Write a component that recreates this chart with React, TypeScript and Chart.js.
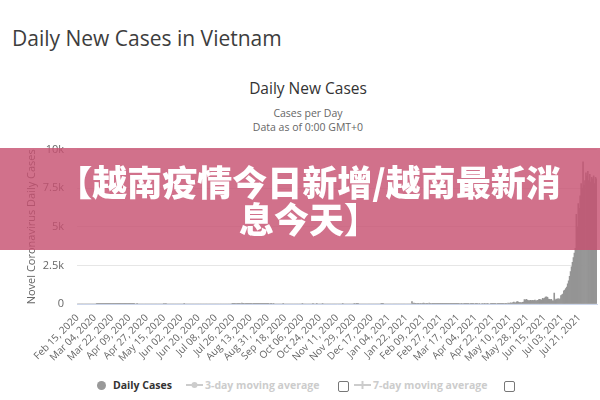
import React, { useEffect, useRef } from "react";
import { Chart, registerables } from "chart.js";

Chart.register(...registerables);

// ---- Data (daily new cases, Vietnam) ----
const firstDay = "2020-02-15";

const feb2020 = [0, 0, 0, 0, 0, 0, 0, 0, 0, 0, 0, 0, 0, 0, 0];
const mar2020 = [0, 0, 0, 0, 0, 1, 1, 2, 12, 4, 4, 8, 8, 8, 4, 5, 8, 11, 9, 9, 9, 19, 10, 7, 12, 7, 10, 16, 14, 10, 12];
const apr2020 = [4, 15, 6, 4, 3, 4, 4, 4, 4, 2, 1, 4, 4, 1, 0, 0, 2, 0, 0, 0, 0, 0, 0, 0, 0, 0, 0, 0, 0, 0];
const may2020 = [0, 0, 0, 0, 0, 0, 0, 0, 0, 0, 0, 0, 0, 0, 24, 0, 2, 0, 0, 0, 0, 0, 0, 0, 0, 0, 0, 0, 0, 0, 0];
const jun2020 = [0, 0, 0, 0, 1, 0, 0, 0, 0, 0, 0, 0, 0, 0, 0, 0, 0, 0, 0, 0, 0, 0, 0, 0, 0, 0, 0, 0, 0, 0];
const jul2020 = [0, 0, 0, 0, 0, 0, 0, 0, 0, 0, 0, 0, 0, 0, 0, 0, 0, 0, 0, 0, 0, 0, 0, 0, 1, 2, 11, 9, 30, 45, 45];
const aug2020 = [21, 37, 31, 60, 40, 45, 33, 20, 23, 16, 19, 13, 25, 22, 31, 19, 22, 6, 8, 17, 13, 11, 8, 4, 5, 6, 3, 6, 4, 5, 2];
const sep2020 = [2, 0, 1, 1, 0, 3, 0, 0, 0, 0, 0, 0, 0, 0, 0, 2, 0, 0, 0, 0, 0, 0, 0, 0, 0, 0, 0, 0, 0, 0];
const oct2020 = [0, 0, 0, 0, 0, 2, 0, 0, 0, 0, 0, 0, 0, 0, 0, 0, 1, 0, 0, 0, 5, 0, 0, 0, 0, 0, 1, 0, 0, 0, 0];
const nov2020 = [0, 0, 0, 0, 0, 0, 0, 0, 0, 0, 0, 0, 0, 0, 0, 0, 2, 0, 0, 0, 0, 0, 0, 0, 0, 0, 0, 0, 3, 0];
const dec2020 = [3, 4, 1, 0, 0, 0, 0, 0, 0, 0, 0, 0, 0, 0, 0, 0, 0, 0, 0, 0, 0, 0, 0, 0, 0, 0, 4, 12, 5, 0, 0];
const jan2021 = [0, 0, 0, 0, 0, 0, 0, 0, 0, 0, 0, 0, 0, 0, 0, 0, 0, 0, 0, 0, 0, 0, 0, 0, 0, 0, 0, 150, 17, 54, 26];
const feb2021 = [40, 30, 25, 40, 30, 45, 35, 50, 60, 25, 30, 40, 20, 35, 60, 45, 35, 20, 15, 15, 5, 10, 10, 20, 10, 10, 10, 10];
const mar2021 = [8, 6, 4, 2, 3, 2, 4, 1, 5, 2, 1, 1, 3, 4, 2, 2, 2, 3, 0, 3, 2, 0, 1, 2, 3, 2, 1, 3, 0, 4, 2];
const apr2021 = [2, 1, 0, 3, 2, 1, 0, 2, 0, 0, 1, 0, 2, 3, 0, 1, 2, 0, 0, 1, 2, 4, 2, 3, 2, 0, 2, 5, 16, 20];
const may2021 = [15, 5, 10, 30, 25, 20, 30, 60, 45, 55, 80, 40, 90, 120, 80, 70, 140, 150, 110, 90, 100, 70, 110, 120, 280, 260, 300, 250, 220, 200, 230];
const jun2021 = [200, 240, 210, 230, 250, 190, 220, 240, 280, 300, 270, 250, 360, 340, 380, 450, 470, 440, 320, 300, 280, 310, 200, 210, 700, 250, 320, 300, 350, 280];
const jul2021 = [330, 550, 600, 650, 850, 900, 1000, 1100, 1300, 1500, 1800, 2100, 2400, 2700, 3000, 3300, 3600, 5800, 5000, 6500, 6200, 7000, 7800, 7500, 9200, 7700, 8000, 8500, 8300, 8600, 8000];
const aug2021 = [8400, 7900, 8200, 8100, 8300, 7800, 8200, 8100];

const dailyCases = [
  ...feb2020, ...mar2020, ...apr2020, ...may2020, ...jun2020, ...jul2020,
  ...aug2020, ...sep2020, ...oct2020, ...nov2020, ...dec2020,
  ...jan2021, ...feb2021, ...mar2021, ...apr2021, ...may2021, ...jun2021,
  ...jul2021, ...aug2021,
];

const tickLabels = [
  "Feb 15, 2020", "Mar 04, 2020", "Mar 22, 2020", "Apr 09, 2020", "Apr 27, 2020",
  "May 15, 2020", "Jun 02, 2020", "Jun 20, 2020", "Jul 08, 2020", "Jul 26, 2020",
  "Aug 13, 2020", "Aug 31, 2020", "Sep 18, 2020", "Oct 06, 2020", "Oct 24, 2020",
  "Nov 11, 2020", "Nov 29, 2020", "Dec 17, 2020", "Jan 04, 2021", "Jan 22, 2021",
  "Feb 09, 2021", "Feb 27, 2021", "Mar 17, 2021", "Apr 04, 2021", "Apr 22, 2021",
  "May 10, 2021", "May 28, 2021", "Jun 15, 2021", "Jul 03, 2021", "Jul 21, 2021",
];

const yTickValues = [0, 2500, 5000, 7500, 10000];
const yTickLabels = ["0", "2.5k", "5k", "7.5k", "10k"];

const MONTHS = ["Jan", "Feb", "Mar", "Apr", "May", "Jun", "Jul", "Aug", "Sep", "Oct", "Nov", "Dec"];

function buildDates(start: string, n: number): string[] {
  const out: string[] = [];
  const t0 = new Date(start + "T00:00:00Z").getTime();
  for (let i = 0; i < n; i++) {
    const d = new Date(t0 + i * 86400000);
    out.push(
      `${MONTHS[d.getUTCMonth()]} ${String(d.getUTCDate()).padStart(2, "0")}, ${d.getUTCFullYear()}`
    );
  }
  return out;
}

const dates = buildDates(firstDay, dailyCases.length);
const tickSet = new Set(tickLabels);

export default function App() {
  const canvasRef = useRef<HTMLCanvasElement | null>(null);

  useEffect(() => {
    if (!canvasRef.current) return;
    const chart = new Chart(canvasRef.current, {
      type: "bar",
      data: {
        labels: dates,
        datasets: [
          {
            label: "Daily Cases",
            data: dailyCases,
            backgroundColor: "#959595",
            borderWidth: 0,
            barPercentage: 1,
            categoryPercentage: 1,
          },
        ],
      },
      options: {
        animation: false,
        responsive: false,
        maintainAspectRatio: false,
        layout: { padding: { top: 16, right: 3, left: 0, bottom: 0 } },
        plugins: {
          legend: { display: false },
          tooltip: { enabled: false },
          title: { display: false },
        },
        scales: {
          x: {
            offset: true,
            grid: { display: false, drawTicks: false },
            border: { display: true, color: "#ccd6eb" },
            ticks: {
              autoSkip: false,
              maxRotation: 45,
              minRotation: 45,
              padding: 8,
              color: "#666666",
              font: { family: "'Open Sans', sans-serif", size: 10 },
              callback: (_v: any, index: number) => (tickSet.has(dates[index]) ? dates[index] : null),
            },
            afterFit: (s: any) => {
              s.height = 71;
            },
          },
          y: {
            min: 0,
            max: 10000,
            afterBuildTicks: (s: any) => {
              s.ticks = yTickValues.map((v) => ({ value: v }));
            },
            ticks: {
              padding: 13,
              color: "#666666",
              font: { family: "'Open Sans', sans-serif", size: 11 },
              callback: (v: any) => {
                const i = yTickValues.indexOf(Number(v));
                return i >= 0 ? yTickLabels[i] : "";
              },
            },
            grid: { color: "#e6e6e6", drawTicks: false },
            border: { display: false },
            title: {
              display: true,
              text: "Novel Coronavirus Daily Cases",
              color: "#666666",
              font: { family: "'Open Sans', sans-serif", size: 11 },
              padding: { top: 25, bottom: 0 },
            },
            afterFit: (s: any) => {
              s.width = 77;
            },
          },
        },
      },
    } as any);
    return () => chart.destroy();
  }, []);

  const legendText: React.CSSProperties = {
    position: "absolute",
    top: 377,
    lineHeight: "16px",
    fontSize: 10.5,
    fontWeight: 700,
    whiteSpace: "nowrap",
  };

  return (
    <div
      style={{
        position: "absolute",
        left: 0,
        top: 0,
        width: 600,
        height: 400,
        overflow: "hidden",
        background: "#ffffff",
        fontFamily: "'Open Sans', sans-serif",
      }}
    >
      <div style={{ position: "absolute", left: 12, top: 24, fontSize: 21, lineHeight: "28px", color: "#3d3d3d", whiteSpace: "nowrap" }}>
        Daily New Cases in Vietnam
      </div>
      <div style={{ position: "absolute", left: 158, width: 300, top: 78, fontSize: 15.5, lineHeight: "20px", color: "#333333", textAlign: "center" }}>
        Daily New Cases
      </div>
      <div style={{ position: "absolute", left: 158, width: 300, top: 106, fontSize: 10.5, lineHeight: "14px", color: "#666666", textAlign: "center" }}>
        Cases per Day
        <br />
        Data as of 0:00 GMT+0
      </div>

      <canvas
        ref={canvasRef}
        width={600}
        height={245}
        style={{ position: "absolute", left: 0, top: 130, width: 600, height: 245 }}
      />

      {/* Legend */}
      <div style={{ position: "absolute", left: 97, top: 381, width: 9, height: 9, borderRadius: "50%", background: "#999999" }} />
      <div style={{ ...legendText, left: 113, color: "#333333" }}>Daily Cases</div>
      <svg style={{ position: "absolute", left: 186, top: 380 }} width={17} height={10}>
        <line x1={0} y1={5} x2={17} y2={5} stroke="#cccccc" strokeWidth={2} />
        <circle cx={8.5} cy={5} r={3} fill="#cccccc" />
      </svg>
      <div style={{ ...legendText, left: 205, color: "#cccccc" }}>3-day moving average</div>
      <div style={{ position: "absolute", left: 338, top: 381, width: 9, height: 9, border: "1px solid #777", borderRadius: 2, background: "#fff" }} />
      <svg style={{ position: "absolute", left: 354, top: 380 }} width={17} height={10}>
        <line x1={0} y1={5} x2={17} y2={5} stroke="#cccccc" strokeWidth={2} />
        <line x1={8.5} y1={1} x2={8.5} y2={9} stroke="#cccccc" strokeWidth={2} />
      </svg>
      <div style={{ ...legendText, left: 373, color: "#cccccc" }}>7-day moving average</div>
      <div style={{ position: "absolute", left: 504, top: 381, width: 9, height: 9, border: "1px solid #777", borderRadius: 2, background: "#fff" }} />

      {/* Banner overlay */}
      <div
        style={{
          position: "absolute",
          left: 0,
          top: 148,
          width: 600,
          height: 102,
          background: "rgba(198, 80, 112, 0.81)",
        }}
      >
        <div
          style={{
            position: "absolute",
            left: 9,
            top: 14,
            width: 600,
            textAlign: "center",
            color: "#ffffff",
            fontFamily: "'Noto Sans CJK SC', sans-serif",
            fontWeight: 900,
            fontSize: 35,
            lineHeight: "37px",
            whiteSpace: "nowrap",
          }}
        >
          【越南疫情今日新增/越南最新消
          <br />
          息今天】
        </div>
      </div>
    </div>
  );
}
